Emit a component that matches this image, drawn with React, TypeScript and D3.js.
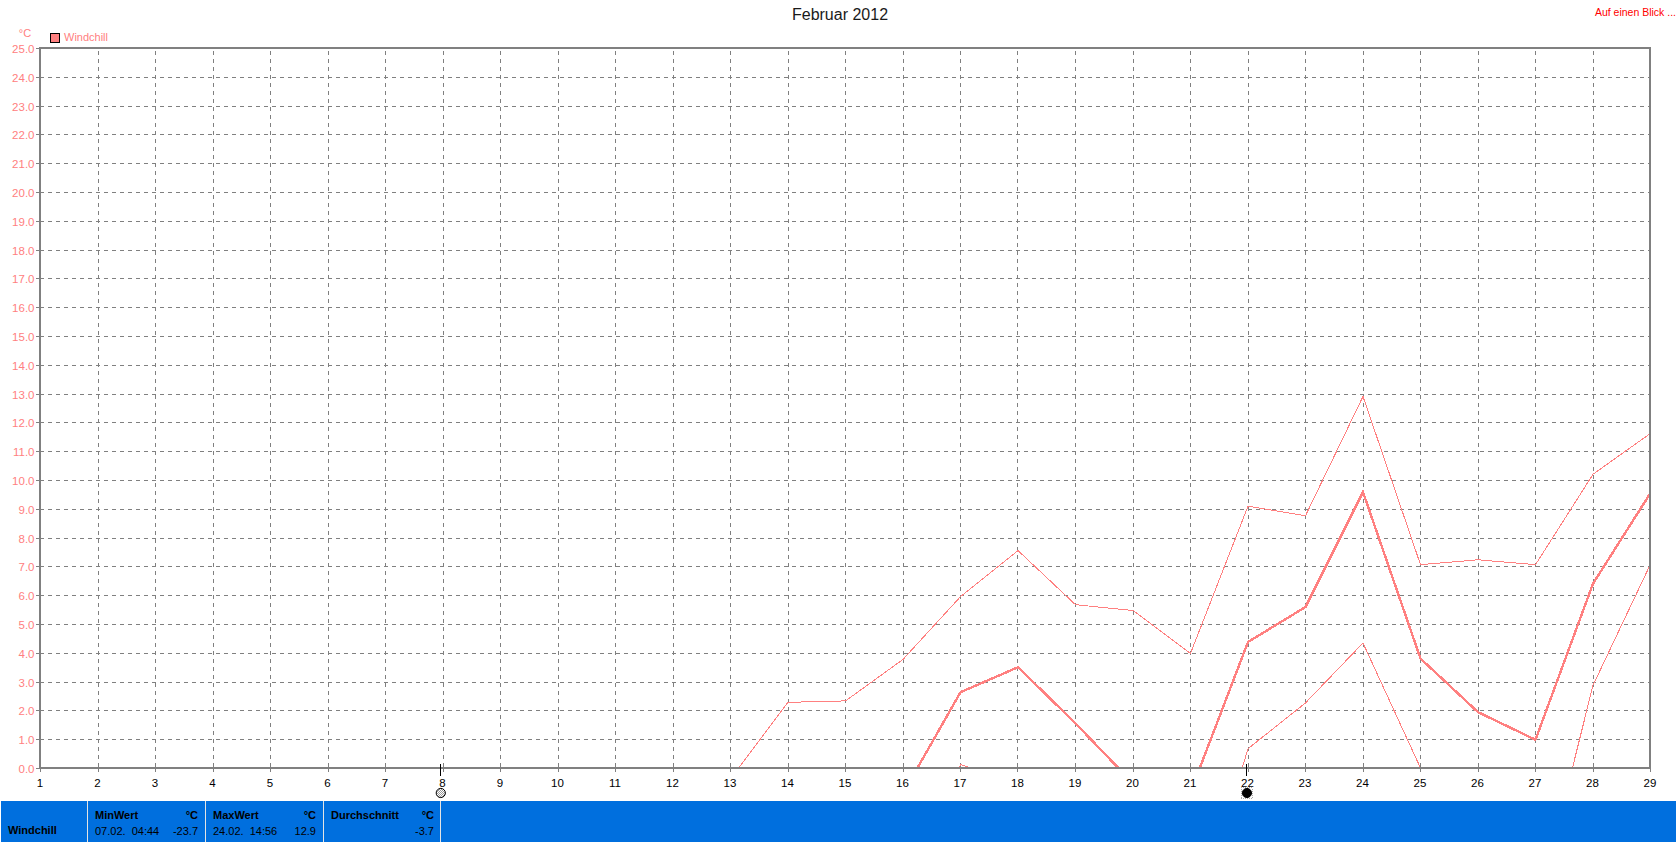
import React from "react";
import * as d3 from "d3";

const days = d3.range(1, 30);
const yTicks = d3.range(0, 26);
const maxSeries: (number | null)[] = [null, null, null, null, null, null, null, null, null, null, null, null, -0.37, 2.28, 2.33, 3.77, 5.95, 7.55, 5.67, 5.47, 3.98, 9.09, 8.76, 12.9, 7.06, 7.23, 7.06, 10.2, 11.62];
const avgSeries: (number | null)[] = [null, null, null, null, null, null, null, null, null, null, null, null, null, null, null, -0.88, 2.63, 3.5, 1.55, -0.53, -0.84, 4.375, 5.59, 9.58, 3.8, 1.94, 0.98, 6.4, 9.55];
const minSeries: (number | null)[] = [null, null, null, null, null, null, null, null, null, null, null, null, null, null, null, -5, 0.12, -0.55, null, null, -6, 0.67, 2.26, 4.34, 0, null, -5.15, 2.87, 7.08];
const markerDays = [7.97, 21.99];
const title = "Februar 2012";
const seriesName = "Windchill";
const statBlocks = [
  { head: "MinWert", left: "07.02.  04:44", right: "-23.7", x0: 88, x1: 204 },
  { head: "MaxWert", left: "24.02.  14:56", right: "12.9", x0: 206, x1: 322 },
  { head: "Durchschnitt", left: "", right: "-3.7", x0: 324, x1: 440 },
];

const L = 40, R = 1650, T = 48, B = 768;
const PINK = "#ff8080";
const GREY = "#808080";
const FONT = "'Liberation Sans', Arial, sans-serif";

export default function App() {
  const x = d3.scaleLinear().domain([1, 29]).range([L, R]);
  const y = d3.scaleLinear().domain([0, 25]).range([B, T]);
  const line = d3
    .line<number | null>()
    .defined((d) => d !== null)
    .x((_, i) => x(days[i]) + 0.5)
    .y((d) => y(d as number));
  const px = (v: number) => Math.round(v) + 0.5;

  return (
    <svg
      width={1677}
      height={842}
      viewBox="0 0 1677 842"
      style={{ position: "fixed", left: 0, top: 0, background: "#fff", fontFamily: FONT }}
    >
      <defs>
        <clipPath id="plot">
          <rect x={L} y={T} width={R - L} height={B - T} />
        </clipPath>
        <pattern id="dots" width={2} height={2} patternUnits="userSpaceOnUse">
          <rect width={2} height={2} fill="#fff" />
          <rect width={1} height={1} fill="#999" />
          <rect x={1} y={1} width={1} height={1} fill="#999" />
        </pattern>
      </defs>

      <text x={840} y={20} fontSize={16} textAnchor="middle" fill="#1a1a1a">{title}</text>
      <text x={1676} y={16} fontSize={10.5} textAnchor="end" fill="#ff0000">Auf einen Blick ...</text>

      <text x={25} y={37} fontSize={11} textAnchor="middle" fill={PINK}>°C</text>
      <rect x={50.5} y={33.5} width={9} height={9} fill={PINK} stroke="#000" />
      <text x={64} y={41} fontSize={11} fill={PINK}>{seriesName}</text>

      {/* grid */}
      <g stroke={GREY} strokeWidth={1} shapeRendering="crispEdges">
        {yTicks.slice(1, -1).map((t) => (
          <line key={t} x1={L} x2={R} y1={px(y(t))} y2={px(y(t))} strokeDasharray="4 4" />
        ))}
        {days.slice(1, -1).map((d) => (
          <line key={d} x1={px(x(d))} x2={px(x(d))} y1={T + 3} y2={B} strokeDasharray="4 4" />
        ))}
        {yTicks.map((t) => (
          <line key={t} x1={36} x2={L} y1={px(y(t))} y2={px(y(t))} />
        ))}
        {days.map((d) => (
          <line key={d} x1={px(x(d))} x2={px(x(d))} y1={B} y2={B + 4} />
        ))}
      </g>

      {/* series */}
      <g clipPath="url(#plot)" fill="none" stroke={PINK} shapeRendering="crispEdges">
        <path d={line(maxSeries) ?? ""} strokeWidth={1} />
        <path d={line(minSeries) ?? ""} strokeWidth={1} />
        <path d={line(avgSeries) ?? ""} strokeWidth={2.4} />
      </g>

      {/* frame */}
      <rect x={L} y={T} width={R - L} height={B - T} fill="none" stroke={GREY} strokeWidth={2} shapeRendering="crispEdges" />

      {/* tick labels */}
      <g fontSize={11.5} fill={PINK} textAnchor="end">
        {yTicks.map((t) => (
          <text key={t} x={34.5} y={y(t) + 5}>{t.toFixed(1)}</text>
        ))}
      </g>
      <g fontSize={11.5} fill="#000" textAnchor="middle">
        {days.map((d) => (
          <text key={d} x={x(d)} y={787}>{d}</text>
        ))}
      </g>

      {/* markers */}
      {markerDays.map((d, i) => (
        <g key={d}>
          <line x1={Math.floor(x(d)) + 0.5} x2={Math.floor(x(d)) + 0.5} y1={764} y2={776} stroke="#000" shapeRendering="crispEdges" />
          {i === 1 && (
            <rect x={x(d) - 5.5} y={787.5} width={11} height={11} fill="none" stroke="#aaa" strokeDasharray="1 1" shapeRendering="crispEdges" />
          )}
          <circle cx={x(d)} cy={793} r={4.6} fill={i === 0 ? "url(#dots)" : "#000"} stroke="#000" strokeWidth={1} />
        </g>
      ))}

      {/* status bar */}
      <rect x={1} y={801} width={1675} height={41} fill="#006fde" />
      <text x={8} y={834} fontSize={11} fontWeight="bold" fill="#000">{seriesName}</text>
      {statBlocks.map((b) => (
        <g key={b.head} fontSize={11} fill="#000">
          <line x1={b.x0 - 0.5} x2={b.x0 - 0.5} y1={801} y2={842} stroke="#e4e4e4" strokeWidth={1} />
          <text x={b.x0 + 7} y={819} fontWeight="bold">{b.head}</text>
          <text x={b.x1 - 6} y={819} fontWeight="bold" textAnchor="end">°C</text>
          <text x={b.x0 + 7} y={835} xmlSpace="preserve">{b.left}</text>
          <text x={b.x1 - 6} y={835} textAnchor="end">{b.right}</text>
        </g>
      ))}
      <line x1={440.5} x2={440.5} y1={801} y2={842} stroke="#e4e4e4" strokeWidth={1} />
    </svg>
  );
}
